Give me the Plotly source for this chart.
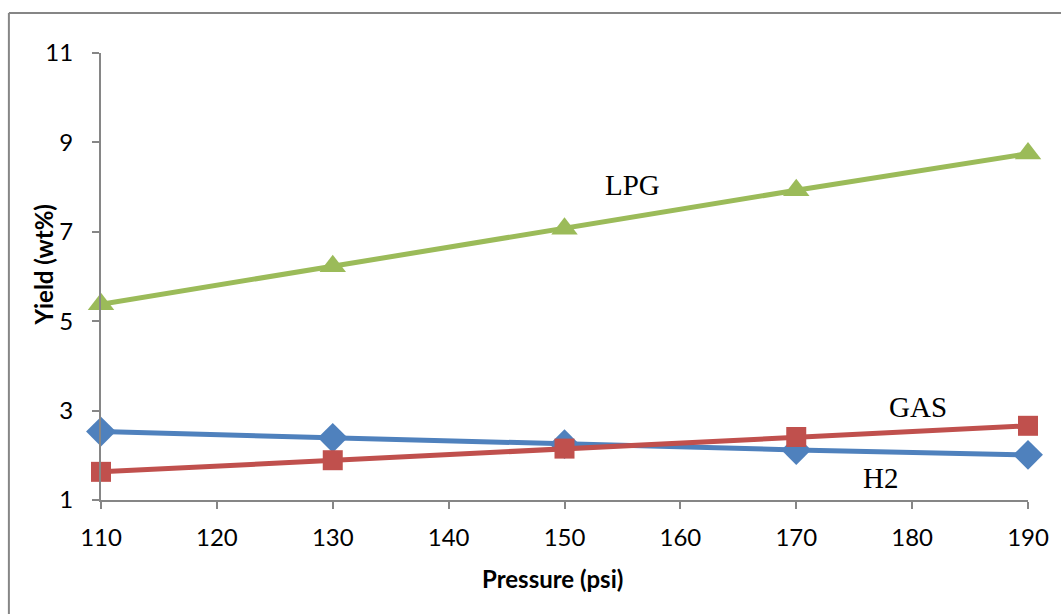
import plotly.graph_objects as go

pressure = [110, 130, 150, 170, 190]
h2 = [2.53, 2.39, 2.25, 2.12, 2.01]
gas = [1.63, 1.89, 2.15, 2.41, 2.66]
lpg = [5.38, 6.23, 7.07, 7.93, 8.75]

W, H = 1061, 614
L, R, T, B = 101, 24, 53, 114
pw, ph = W - L - R, H - T - B

fig = go.Figure()
fig.add_trace(go.Scatter(x=pressure, y=h2, mode="lines+markers", name="H2",
                         line=dict(color="#4F81BD", width=5),
                         marker=dict(symbol="diamond", size=23, color="#4F81BD"),
                         cliponaxis=False))
fig.add_trace(go.Scatter(x=pressure, y=gas, mode="lines+markers", name="GAS",
                         line=dict(color="#C0504D", width=5),
                         marker=dict(symbol="square", size=20, color="#C0504D"),
                         cliponaxis=False))
fig.add_trace(go.Scatter(x=pressure, y=lpg, mode="lines+markers", name="LPG",
                         line=dict(color="#9BBB59", width=5),
                         marker=dict(symbol="triangle-up", size=23, color="#9BBB59"),
                         cliponaxis=False))

serif = dict(family="Liberation Serif, Times New Roman, serif", size=29, color="black")
fig.add_annotation(x=155.9, y=8.05, text="LPG", showarrow=False, font=serif)
fig.add_annotation(x=180.5, y=3.08, text="GAS", showarrow=False, font=serif)
fig.add_annotation(x=177.3, y=1.49, text="H2", showarrow=False, font=serif)

fam = "Lato, Carlito, Calibri, sans-serif"
titlefont = dict(family=fam, size=24, color="black")
fig.add_annotation(xref="paper", yref="paper", x=(557 - L) / pw, y=(500 - 578) / ph,
                   text="<b>Pressure (psi)</b>", showarrow=False, font=titlefont,
                   xanchor="center", yanchor="middle")
fig.add_annotation(xref="paper", yref="paper", x=(42 - L) / pw, y=(500 - 265) / ph,
                   text="<b>Yield (wt%)</b>", showarrow=False, font=titlefont,
                   textangle=-90, xanchor="center", yanchor="middle")

# outer border (left and top edges visible)
bx = (8 - L) / pw
by = 1 + (T - 13) / ph
fig.add_shape(type="line", xref="paper", yref="paper", x0=bx, x1=bx, y0=by, y1=-0.5,
              line=dict(color="#868686", width=2))
fig.add_shape(type="line", xref="paper", yref="paper", x0=bx, x1=1.2, y0=by, y1=by,
              line=dict(color="#868686", width=2))

tickfont = dict(family=fam, size=24, color="black")
fig.update_xaxes(range=[110, 190], tickvals=list(range(110, 191, 10)),
                 showgrid=False, zeroline=False, showline=True,
                 linecolor="#868686", linewidth=2, ticks="outside", ticklen=7,
                 tickcolor="#868686", tickwidth=2, tickfont=tickfont,
                 ticklabelstandoff=8)
fig.update_yaxes(range=[1, 11], tickvals=[1, 3, 5, 7, 9, 11],
                 showgrid=False, zeroline=False, showline=True,
                 linecolor="#868686", linewidth=2, ticks="outside", ticklen=7,
                 tickcolor="#868686", tickwidth=2, tickfont=tickfont,
                 ticklabelstandoff=14)
fig.update_layout(width=W, height=H, margin=dict(l=L, r=R, t=T, b=B),
                  plot_bgcolor="white", paper_bgcolor="white", showlegend=False)
fig.write_html("out.html")
